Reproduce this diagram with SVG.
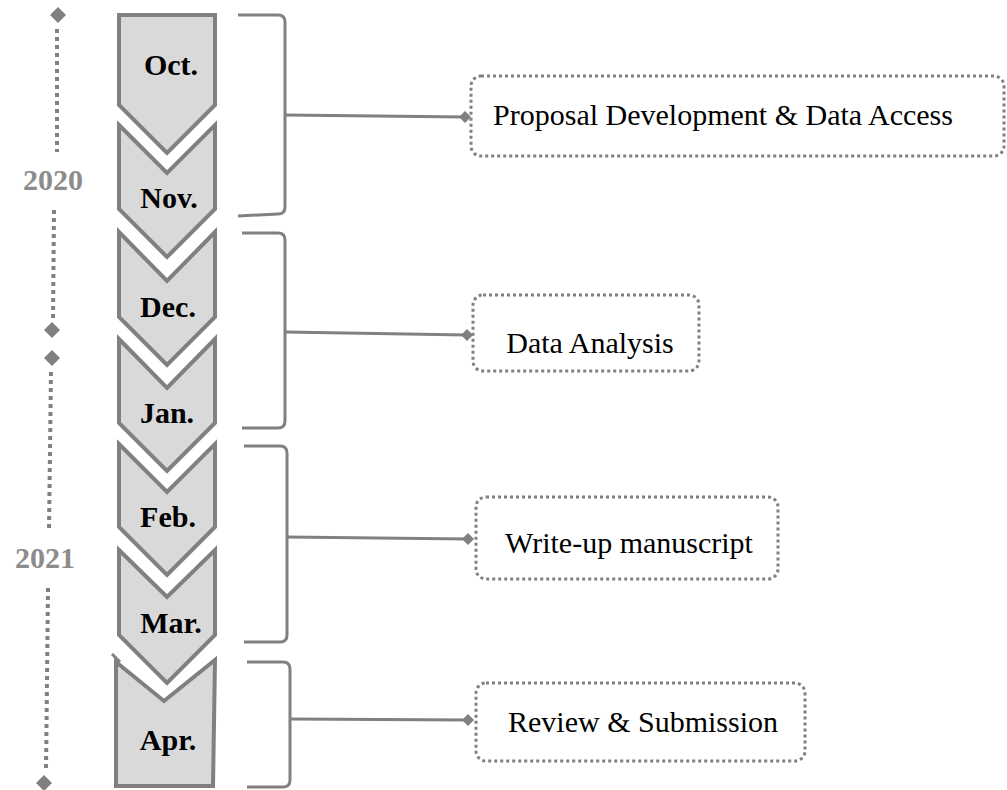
<svg xmlns="http://www.w3.org/2000/svg" width="1007" height="790" viewBox="0 0 1007 790">
<defs>
<style>
.chev{fill:#d9d9d9;stroke:#808080;stroke-width:4;stroke-linejoin:miter}
.mon{font-family:"Liberation Serif","Times New Roman",serif;font-weight:bold;font-size:30px;fill:#000;text-anchor:middle}
.yr{font-family:"Liberation Serif","Times New Roman",serif;font-weight:bold;font-size:30px;fill:#8c8c8c;text-anchor:middle}
.lbl{font-family:"Liberation Serif","Times New Roman",serif;font-size:30px;fill:#000;text-anchor:middle}
.box{fill:#fff;stroke:#808080;stroke-width:3;stroke-dasharray:3 3}
.brk{fill:none;stroke:#808080;stroke-width:3}
.con{fill:none;stroke:#808080;stroke-width:3}
.dot{fill:none;stroke:#808080;stroke-width:4;stroke-dasharray:4 4}
.dia{fill:#808080}
</style>
</defs>
<rect width="1007" height="790" fill="#fff"/>
<g id="timeline">
<path class="dot" d="M57,29 L57,152"/>
<path class="dot" d="M54,210 L53,322"/>
<path class="dot" d="M51,372 L49,530"/>
<path class="dot" d="M48,588 L46,772"/>
<path class="dia" d="M58,7 L66,15 L58,23 L50,15 Z"/>
<path class="dia" d="M52,322 L60,330 L52,338 L44,330 Z"/>
<path class="dia" d="M52,350 L60,358 L52,366 L44,358 Z"/>
<path class="dia" d="M44,775 L52,783 L44,791 L36,783 Z"/>
<text class="yr" x="53" y="190">2020</text>
<text class="yr" x="45" y="568">2021</text>
</g>
<g id="oct"><path class="chev" d="M119,15 L215,15 L215,105 L167,153 L119,105 Z"/><text class="mon" x="171" y="75">Oct.</text></g>
<g id="nov"><path class="chev" d="M119,125 L167,173 L215,125 L215,209 L167,257 L119,209 Z"/><text class="mon" x="169" y="208">Nov.</text></g>
<g id="dec"><path class="chev" d="M119,232 L167,281 L215,232 L215,317 L167,365 L119,317 Z"/><text class="mon" x="168" y="317">Dec.</text></g>
<g id="jan"><path class="chev" d="M119,339 L167,388 L215,339 L215,423 L167,471 L119,423 Z"/><text class="mon" x="167" y="423">Jan.</text></g>
<g id="feb"><path class="chev" d="M119,444 L167,492 L215,444 L215,527 L167,575 L119,527 Z"/><text class="mon" x="168" y="527">Feb.</text></g>
<g id="mar"><path class="chev" d="M119,550 L167,597 L215,550 L215,635 L167,683 L119,635 Z"/><text class="mon" x="171" y="633">Mar.</text></g>
<g id="apr"><path class="chev" d="M116,662 L164,701 L215,660 L213,786 L116,786 Z"/><path class="brk" stroke-width="4" d="M112,654 L120,662"/><text class="mon" x="168" y="750">Apr.</text></g>
<g id="brackets">
<path class="brk" d="M238,15 L278,15 Q285,15 285,22 L285,207 Q285,214 278,214 L238,216"/>
<path class="brk" d="M242,233 L278,233 Q285,233 285,240 L285,421 Q285,428 278,428 L242,428"/>
<path class="brk" d="M244,446 L280,446 Q287,446 287,453 L287,635 Q287,642 280,642 L244,642"/>
<path class="brk" d="M247,662 L283,662 Q290,662 290,669 L290,780 Q290,787 283,787 L247,787"/>
</g>
<g id="connectors">
<path class="con" d="M285,115 L465,117"/>
<path class="con" d="M285,332 L467,335"/>
<path class="con" d="M287,537 L468,539"/>
<path class="con" d="M290,719 L468,720"/>
<path class="dia" d="M465,111 L471,117 L465,123 L459,117 Z"/>
<path class="dia" d="M467,329 L473,335 L467,341 L461,335 Z"/>
<path class="dia" d="M468,533 L474,539 L468,545 L462,539 Z"/>
<path class="dia" d="M468,714 L474,720 L468,726 L462,720 Z"/>
</g>
<g id="box1"><rect class="box" x="471" y="76" width="533" height="80" rx="10"/><text class="lbl" x="723" y="125">Proposal Development &amp; Data Access</text></g>
<g id="box2"><rect class="box" x="473" y="295" width="226" height="76" rx="10"/><text class="lbl" x="590" y="353">Data Analysis</text></g>
<g id="box3"><rect class="box" x="476" y="497" width="302" height="82" rx="10"/><text class="lbl" x="629" y="553">Write-up manuscript</text></g>
<g id="box4"><rect class="box" x="476" y="683" width="329" height="78" rx="10"/><text class="lbl" x="643" y="732">Review &amp; Submission</text></g>
</svg>
